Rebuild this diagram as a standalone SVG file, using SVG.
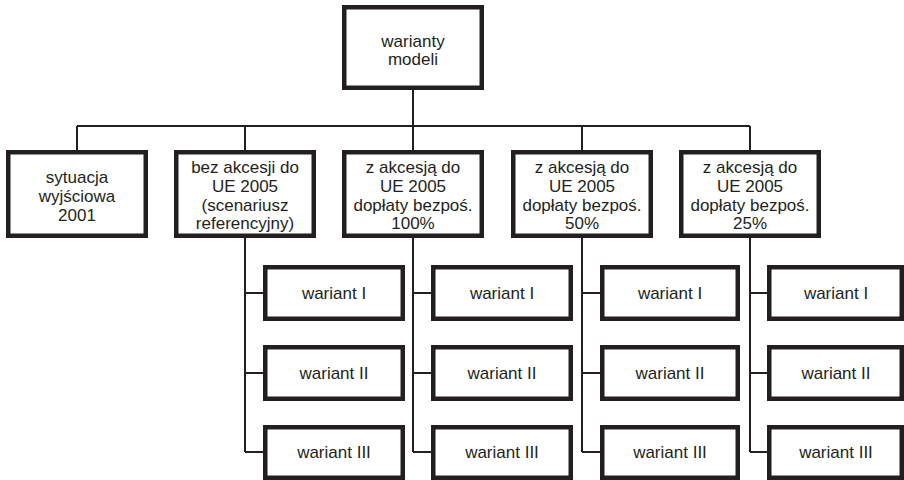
<svg xmlns="http://www.w3.org/2000/svg" width="904" height="480" viewBox="0 0 904 480">
<style>
.box{fill:#fff;stroke:#231f20;stroke-width:4.5}
.ln{fill:none;stroke:#231f20;stroke-width:2}
text{font-family:"Liberation Sans",Arial,sans-serif;font-size:17px;fill:#231f20;text-anchor:middle}
</style>
<rect width="904" height="480" fill="#fff"/>
<g id="connectors">
<path class="ln" d="M413 90V126M77 126H750M77 126V150M245 126V150M413 126V150M582 126V150M750 126V150"/>
<path class="ln" d="M245 238V452M245 293H263M245 373H263M245 452H263"/>
<path class="ln" d="M413 238V452M413 293H431M413 373H431M413 452H431"/>
<path class="ln" d="M582 238V452M582 293H600M582 373H600M582 452H600"/>
<path class="ln" d="M750 238V452M750 293H767M750 373H767M750 452H767"/>
</g>
<g id="root"><rect class="box" x="344.25" y="7.25" width="137.5" height="80.5"/><text x="413" y="47">warianty</text><text x="413" y="65">modeli</text></g>
<g id="n1"><rect class="box" x="8.25" y="152.25" width="137.5" height="83.5"/><text x="77" y="183">sytuacja</text><text x="77" y="202">wyjściowa</text><text x="77" y="221">2001</text></g>
<g id="n2"><rect class="box" x="176.25" y="152.25" width="137.5" height="83.5"/><text x="245" y="173">bez akcesji do</text><text x="245" y="192">UE 2005</text><text x="245" y="211">(scenariusz</text><text x="245" y="229">referencyjny)</text></g>
<g id="n3"><rect class="box" x="344.25" y="152.25" width="137.5" height="83.5"/><text x="413" y="173">z akcesją do</text><text x="413" y="192">UE 2005</text><text x="413" y="211">dopłaty bezpoś.</text><text x="413" y="229">100%</text></g>
<g id="n4"><rect class="box" x="513.25" y="152.25" width="137.5" height="83.5"/><text x="582" y="173">z akcesją do</text><text x="582" y="192">UE 2005</text><text x="582" y="211">dopłaty bezpoś.</text><text x="582" y="229">50%</text></g>
<g id="n5"><rect class="box" x="681.25" y="152.25" width="137.5" height="83.5"/><text x="750" y="173">z akcesją do</text><text x="750" y="192">UE 2005</text><text x="750" y="211">dopłaty bezpoś.</text><text x="750" y="229">25%</text></g>
<g id="n2a"><rect class="box" x="265.25" y="267.25" width="137.5" height="51.5"/><text x="334" y="299">wariant I</text></g>
<g id="n2b"><rect class="box" x="265.25" y="347.25" width="137.5" height="51.5"/><text x="334" y="379">wariant II</text></g>
<g id="n2c"><rect class="box" x="265.25" y="427.25" width="137.5" height="50.5"/><text x="334" y="458">wariant III</text></g>
<g id="n3a"><rect class="box" x="433.25" y="267.25" width="137.5" height="51.5"/><text x="502" y="299">wariant I</text></g>
<g id="n3b"><rect class="box" x="433.25" y="347.25" width="137.5" height="51.5"/><text x="502" y="379">wariant II</text></g>
<g id="n3c"><rect class="box" x="433.25" y="427.25" width="137.5" height="50.5"/><text x="502" y="458">wariant III</text></g>
<g id="n4a"><rect class="box" x="602.25" y="267.25" width="135.5" height="51.5"/><text x="670" y="299">wariant I</text></g>
<g id="n4b"><rect class="box" x="602.25" y="347.25" width="135.5" height="51.5"/><text x="670" y="379">wariant II</text></g>
<g id="n4c"><rect class="box" x="602.25" y="427.25" width="135.5" height="50.5"/><text x="670" y="458">wariant III</text></g>
<g id="n5a"><rect class="box" x="769.25" y="267.25" width="132.5" height="51.5"/><text x="836" y="299">wariant I</text></g>
<g id="n5b"><rect class="box" x="769.25" y="347.25" width="132.5" height="51.5"/><text x="836" y="379">wariant II</text></g>
<g id="n5c"><rect class="box" x="769.25" y="427.25" width="132.5" height="50.5"/><text x="836" y="458">wariant III</text></g>
</svg>
